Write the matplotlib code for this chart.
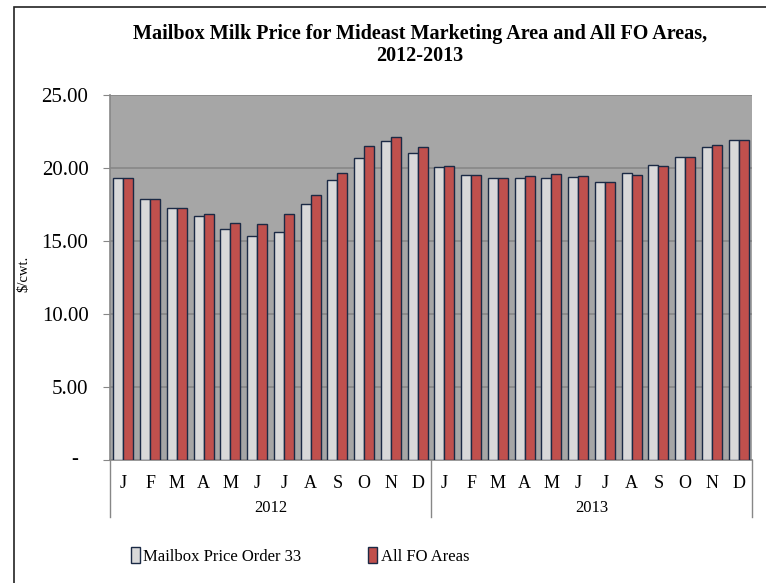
import matplotlib.pyplot as plt
from matplotlib.patches import Patch, Rectangle
from matplotlib.transforms import blended_transform_factory
import numpy as np

plt.rcParams['font.family'] = ['Liberation Serif', 'DejaVu Serif']

months = ['J', 'F', 'M', 'A', 'M', 'J', 'J', 'A', 'S', 'O', 'N', 'D']
years = ['2012', '2013']

# $/cwt., Jan 2012 .. Dec 2013
mailbox_33 = [19.30, 17.89, 17.23, 16.70, 15.80, 15.36, 15.59, 17.52, 19.16, 20.70, 21.84, 21.00,
              20.05, 19.50, 19.30, 19.30, 19.30, 19.36, 19.07, 19.66, 20.18, 20.77, 21.45, 21.95]
all_fo = [19.30, 17.89, 17.23, 16.84, 16.25, 16.18, 16.84, 18.18, 19.66, 21.52, 22.11, 21.45,
          20.11, 19.50, 19.30, 19.43, 19.57, 19.43, 19.07, 19.50, 20.11, 20.77, 21.59, 21.95]

W, H = 766, 583
fig = plt.figure(figsize=(W / 100, H / 100), dpi=100)

# outer chart frame (runs off the right and bottom of the image)
fig.patches.append(Rectangle((13.5 / W, -0.05), 1.0, 1.05 - 7.5 / H, transform=fig.transFigure,
                             fill=False, edgecolor='#222222', lw=1.2))

ax = fig.add_axes([110 / W, (H - 460) / H, 642 / W, 365 / H])
ax.set_facecolor('#a6a6a6')

x = np.arange(len(mailbox_33))
bw = 0.37
edge = '#1b2a45'
ax.bar(x - bw / 2, mailbox_33, bw, color='#d9d9d9', edgecolor=edge, lw=1.0, zorder=3)
ax.bar(x + bw / 2, all_fo, bw, color='#c0504d', edgecolor=edge, lw=1.0, zorder=3)

ax.set_xlim(-0.5, len(x) - 0.5)
ax.set_ylim(0, 25)
ax.set_yticks([0, 5, 10, 15, 20, 25])
ax.set_yticklabels(['', '5.00', '10.00', '15.00', '20.00', '25.00'], fontsize=15)
ax.yaxis.grid(True, color='#878787', lw=1.2, zorder=1)
ax.tick_params(axis='y', length=5, color='#878787', pad=10.5)
# zero shown as a dash, accounting style
ax.text(-35 / 642, 0, '-', transform=blended_transform_factory(ax.transAxes, ax.transData),
        ha='center', va='center', fontsize=15)
fig.text(24 / W, 1 - 274 / H, '$/cwt.', rotation=90, ha='center', va='center', fontsize=10.5)

ax.set_xticks(x)
ax.set_xticklabels(months * 2, fontsize=13)
ax.tick_params(axis='x', length=0, pad=11)

for side in ['top', 'right']:
    ax.spines[side].set_visible(False)
ax.spines['left'].set_color('#878787')
ax.spines['bottom'].set_color('#878787')
ax.spines['left'].set_linewidth(1.2)
ax.spines['bottom'].set_linewidth(1.2)

# year grouping level
trans = blended_transform_factory(ax.transData, ax.transAxes)
for xs in [-0.5, 11.5, 23.5]:
    ax.plot([xs, xs], [0, -57 / 365], color='#878787', lw=1.0, transform=trans, clip_on=False)
for i, yr in enumerate(years):
    ax.text(5.5 + 12 * i, -48 / 365, yr, transform=trans, ha='center', va='center', fontsize=12)

fig.suptitle('Mailbox Milk Price for Mideast Marketing Area and All FO Areas,\n2012-2013',
             x=420 / W, y=1 - 24 / H, fontsize=14.5, fontweight='bold', linespacing=1.15)

handles = [Patch(facecolor='#d9d9d9', edgecolor=edge, label='Mailbox Price Order 33'),
           Patch(facecolor='#c0504d', edgecolor=edge, label='All FO Areas')]
fig.legend(handles=handles, loc='center', bbox_to_anchor=(300 / W, 1 - 556 / H), ncol=2,
           frameon=False, fontsize=12, handlelength=0.55, handleheight=1.1,
           handletextpad=0.2, columnspacing=4.0)

fig.savefig('out.png', dpi=100)
